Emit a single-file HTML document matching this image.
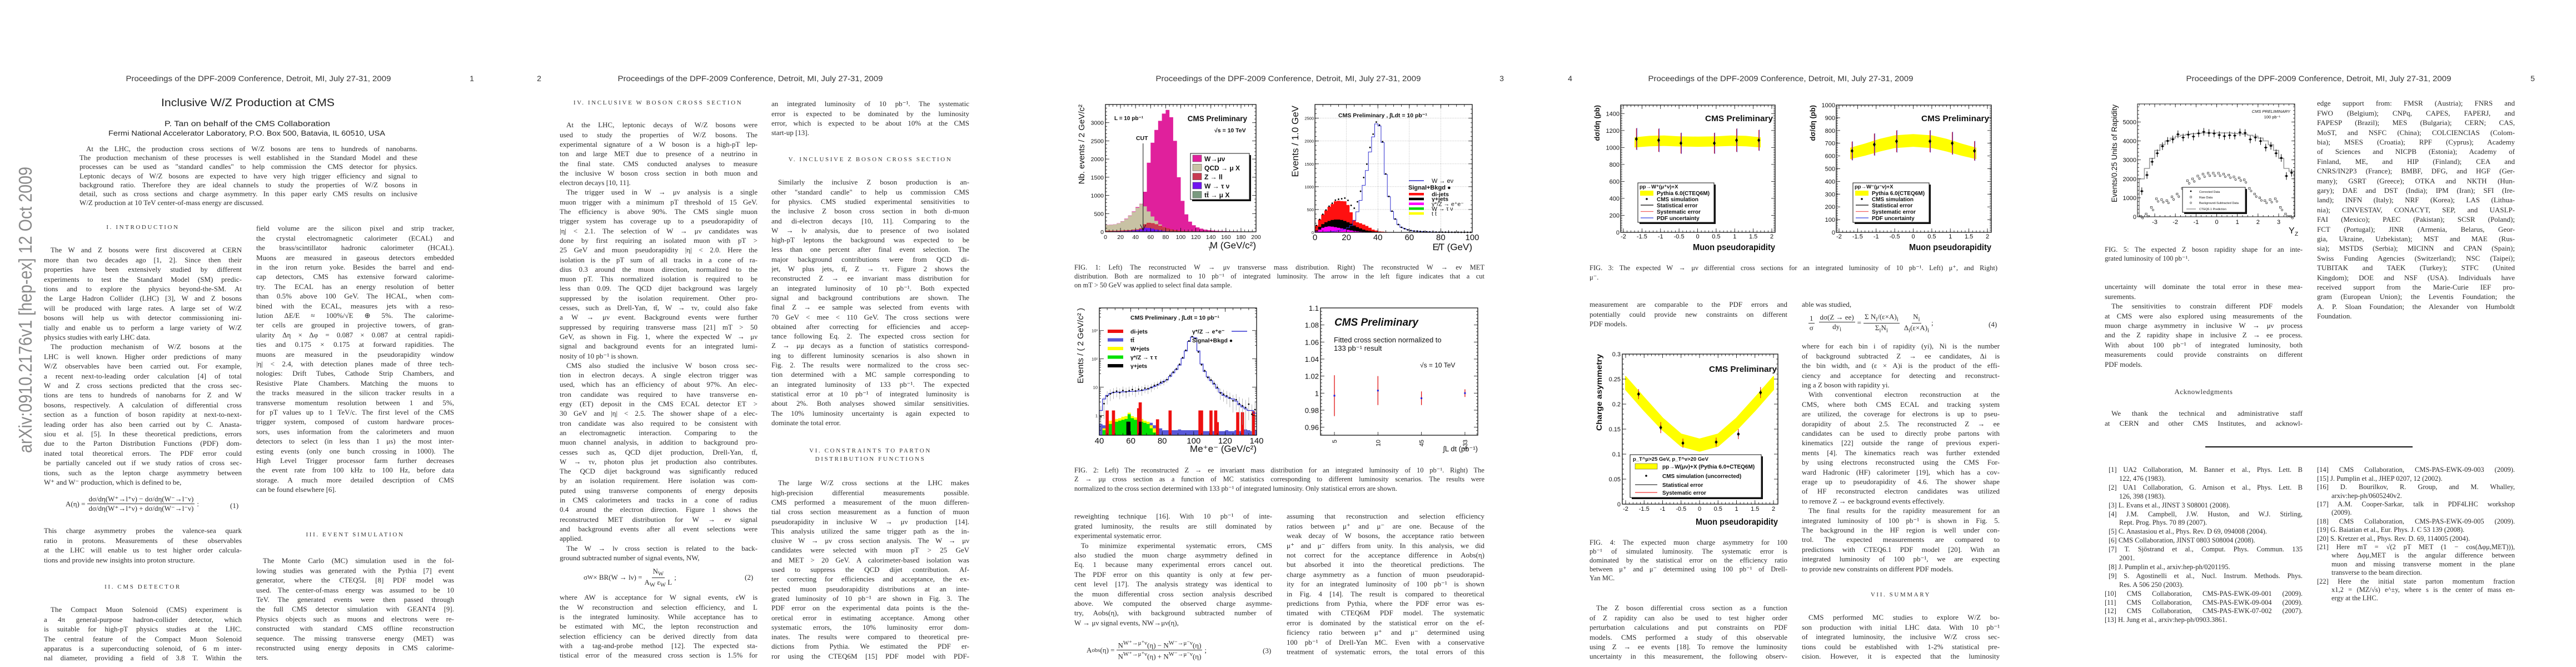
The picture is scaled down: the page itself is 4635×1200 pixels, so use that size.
<!DOCTYPE html>
<html><head><meta charset="utf-8">
<style>
html,body{margin:0;padding:0;background:#fff;}
#root{position:relative;width:4635px;height:1200px;overflow:hidden;background:#fff;font-family:"Liberation Serif",serif;color:#2a2a2a;}
#root div.ln{position:absolute;overflow:hidden;white-space:normal;text-align:justify;word-spacing:0;}
.hd{position:absolute;text-align:center;font-size:11px;letter-spacing:2.6px;color:#333;}
.eq{position:absolute;font-size:13px;display:flex;align-items:center;white-space:nowrap;color:#2a2a2a;}
.fr{display:inline-flex;flex-direction:column;align-items:center;margin:0 4px;}
.fr span:first-child{border-bottom:1px solid #333;padding:0 2px;}
svg text{font-family:"Liberation Sans",sans-serif;}
</style></head>
<body>
<div id="root">
<svg id="plots" width="4635" height="1200" style="position:absolute;left:0;top:0"></svg>

<div class="eq" style="left:118px;top:890px;">A(η) =<span class="fr"><span>dσ/dη(W⁺→l⁺ν) − dσ/dη(W⁻→l⁻ν)</span><span>dσ/dη(W⁺→l⁺ν) + dσ/dη(W⁻→l⁻ν)</span></span>:</div>
<div class="eq" style="left:414px;top:902px;">(1)</div>
<div class="eq" style="left:1050px;top:1020px;">σ<sub>W</sub> × BR(W → lν) =<span class="fr"><span>N<sub>W</sub></span><span>A<sub>W</sub> ε<sub>W</sub> L</span></span>;</div>
<div class="eq" style="left:1340px;top:1031px;">(2)</div>
<div class="eq" style="left:1955px;top:1150px;">A<sup>obs</sup>(η) =<span class="fr"><span>N<sup>W⁺→μ⁺ν</sup>(η) − N<sup>W⁻→μ⁻ν</sup>(η)</span><span>N<sup>W⁺→μ⁺ν</sup>(η) + N<sup>W⁻→μ⁻ν</sup>(η)</span></span>;</div>
<div class="eq" style="left:2272px;top:1163px;">(3)</div>
<div class="eq" style="left:3250px;top:562px;"><span class="fr"><span>1</span><span>σ</span></span><span class="fr"><span>dσ(Z → ee)</span><span>dy<sub>i</sub></span></span>=<span class="fr"><span>Σ N<sub>i</sub>/(ε×A)<sub>i</sub></span><span>Σ<sub>i</sub>N<sub>i</sub></span></span><span class="fr"><span>N<sub>i</sub></span><span>Δ<sub>i</sub>(ε×A)<sub>i</sub></span></span>;</div>
<div class="eq" style="left:3578px;top:576px;">(4)</div>
<div style="position:absolute;left:3968px;top:803px;width:373px;height:2px;background:#111;"></div>
</div>

<script>
const NS='http://www.w3.org/2000/svg';
const root=document.getElementById('root');
const svg=document.getElementById('plots');

/* ================= CHART DATA ================= */
// Fig1 left: W->mu nu transverse mass, bins of 5 GeV from 0 to 200
const f1lEdge0=0, f1lBinW=5;
const f1lTotal=[190,195,205,235,290,360,450,560,680,770,1100,1900,2450,2800,3050,3250,3350,3150,2500,1500,850,480,280,180,120,85,60,45,35,28,22,18,15,12,10,9,8,7,6,5];
const f1lQcd=[185,190,200,230,285,350,440,545,660,760,700,560,420,300,200,130,90,60,40,30,20,15,10,8,6,5,4,3,3,2,2,2,1,1,1,1,1,1,1,1];
const f1lZll=[20,20,22,25,30,35,40,50,60,90,200,240,230,200,160,120,90,60,40,25,15,10,6,4,2,1,0,0,0,0,0,0,0,0,0,0,0,0,0,0];
const f1lWtau=[8,8,10,12,15,20,25,35,50,70,110,105,85,60,40,25,14,8,4,2,1,0,0,0,0,0,0,0,0,0,0,0,0,0,0,0,0,0,0,0];
const f1lYTicks=[0,500,1000,1500,2000,2500,3000];
const f1lXTicks=[0,20,40,60,80,100,120,140,160,180,200];
const f1lCut=50;
// Fig1 right: W->e nu MET, 2 GeV bins 0..100
const f1rBinW=2;
const f1rWenu=[0,2,5,8,12,18,25,35,50,70,100,150,260,450,700,1030,1355,1760,2090,2375,2330,1970,1270,780,460,290,170,110,80,55,40,28,25,20,15,12,10,8,6,5,4,4,3,3,2,2,1,1,1,1];
const f1rDijet=[150,280,390,480,560,620,680,690,685,680,600,440,270,220,200,170,140,100,60,40,20,15,10,6,4,2,1,0,0,0,0,0,0,0,0,0,0,0,0,0,0,0,0,0,0,0,0,0,0,0];
const f1rGjet=[40,120,180,220,250,270,280,280,270,250,220,190,150,115,85,60,40,28,20,12,8,5,3,0,0,0,0,0,0,0,0,0,0,0,0,0,0,0,0,0,0,0,0,0,0,0,0,0,0,0];
const f1rGz=[20,60,100,120,130,125,115,100,85,70,55,42,30,20,14,9,6,4,2,1,0,0,0,0,0,0,0,0,0,0,0,0,0,0,0,0,0,0,0,0,0,0,0,0,0,0,0,0,0,0];
const f1rYTicks=[0,500,1000,1500,2000,2500];
const f1rXTicks=[0,20,40,60,80,100];
// Fig2 left: Z->ee invariant mass, 2 GeV bins 40..140 (log scale)
const f2lBinW=2, f2lEdge0=40;
const f2lZee=[1.5,3.8,5.1,6,6.5,6.6,6.7,6.8,6.9,7,7.1,7.2,7.4,7.6,8,8.6,9.5,10.5,11.8,13.5,16,18,24,32,42,60,104,190,410,590,550,190,66,36,23,17,12.7,9,6.5,5.1,4.5,4,3.8,3.2,2.4,2,1.7,1.5,1.5,1.2];
const f2lData=[0.9,2.6,4.8,5.8,6.5,7.2,6.4,7.6,6.8,7.5,8.2,7.3,8.4,7.9,9.2,8.8,9.9,11.5,12.3,14.8,15.5,18.4,26,34,44,64,110,200,430,610,520,175,62,38,22,18,13.5,9.8,6.2,5.6,4.9,4.2,3.3,3.6,2.6,2.2,1.9,2.5,1.1,1.6];
const f2lTtbar=[0.5,0.45,0.6,0.55,0.5,0.6,0.7,0.65,0.6,0.55,0.5,0.6,0.65,0.5,0.45,0.5,0.55,0.45,0.4,0.35,0.3,0.3,0.3,0.3,0.3,0.32,0.3,0.3,0.3,0.3,0.3,0.3,0.28,0.28,0.28,0.3,0.28,0.28,0.28,0.28,0.3,0.28,0.28,0.3,0.28,0.3,0.32,0.3,0.28,0.3];
const f2lGreen=[0,0.3,0.4,0.5,0.55,0.6,0.65,0.7,0.75,1.1,0.8,0.7,0.7,0.6,0.55,0.5,0.35,0.25,0,0,0,0,0,0,0,0,0,0,0,0,0,0,0,0,0,0,0,0,0,0,0,0,0,0,0,0,0,0,0,0];
const f2lYellow=[0,0.35,0.5,0.65,0.7,0.75,0.8,0.9,0.95,1.25,0.95,0.85,0.85,0.75,0.65,0.6,0.45,0.35,0.3,0,0,0,0,0,0,0,0,0,0,0,0,0,0,0,0,0,0,0,0,0,0,0,0,0,0,0,0,0,0,0];
const f2lDijetMass=[45,49,65,66,77,85,104,105,111,114,115,128,131,138];
const f2lDijetVal=[1.5,1.5,1.8,2.9,0.73,1.5,1.5,1.5,1.5,1.5,0.58,1.3,1.3,1.4];
const f2lYTicks=[1,10,100,1000];
const f2lYTickLabels=['1','10','10²','10³'];
const f2lXTicks=[40,60,80,100,120,140];
// Fig2 right: cross section vs integrated luminosity
const f2rCats=['5','10','45','133'];
const f2rVals=[0.997,1.003,0.994,1.0];
const f2rErrs=[0.024,0.017,0.008,0.0045];
const f2rYTicks=[0.96,0.98,1,1.02,1.04,1.06,1.08,1.1];
const f2rYTickLabels=['0.96','0.98','1','1.02','1.04','1.06','1.08','1.1'];
// Fig3: W differential cross sections
const f3Eta=[-1.65,-1.05,-0.45,0.45,1.05,1.65];
const f3BandEta=[-1.7,-1.3,-0.9,-0.5,0,0.5,0.9,1.3,1.7];
const f3lBand=[1060,1075,1080,1072,1068,1072,1080,1075,1060];
const f3lBandHW=[60,62,62,60,60,60,62,62,60];
const f3lVals=[1100,1085,1050,1050,1085,1085];
const f3lErr=[130,140,125,125,140,125];
const f3rBand=[620,650,685,712,722,712,685,650,620];
const f3rBandHW=[45,48,50,50,50,50,50,48,45];
const f3rVals=[640,690,715,715,700,640];
const f3rErr=[75,88,88,88,90,78];
const f3lYTicks=[0,200,400,600,800,1000,1200,1400];
const f3rYTicks=[0,100,200,300,400,500,600,700,800,900,1000];
const etaTicks=[-2,-1.5,-1,-0.5,0,0.5,1,1.5,2];
const etaTickLabels=['-2','-1.5','-1','-0.5','0','0.5','1','1.5','2'];
// Fig4: charge asymmetry
const f4BandEta=[-2,-1.5,-1,-0.5,0,0.5,1,1.5,2];
const f4Band=[0.242,0.2,0.16,0.128,0.118,0.128,0.16,0.2,0.242];
const f4BandHW=[0.013,0.013,0.012,0.012,0.012,0.012,0.012,0.013,0.013];
const f4Vals=[0.22,0.153,0.122,0.124,0.14,0.223];
const f4Err=[0.01,0.011,0.009,0.009,0.01,0.011];
const f4YTicks=[0,0.05,0.1,0.15,0.2,0.25,0.3];
const f4YTickLabels=['0','0.05','0.1','0.15','0.2','0.25','0.3'];
// Fig5: Z rapidity, 0.25 bins from -3.75 to 3.75
const f5Edge0=-3.75, f5BinW=0.25;
const f5Corrected=[1350,2200,2900,3350,3720,4000,4080,4350,4180,4330,4230,4400,4480,4420,4390,4310,4250,4300,4280,4450,4420,4080,4180,3990,3650,3740,3350,3100,2150,2320];
const f5Pred=[2000,2550,3080,3500,3800,4000,4150,4250,4300,4350,4380,4400,4420,4420,4420,4420,4420,4420,4400,4380,4350,4300,4250,4150,4000,3800,3500,3080,2550,2400];
const f5Raw=[30,150,500,950,900,850,1050,1200,1500,1900,2000,2150,2250,2300,2300,2300,2250,2200,2100,2050,1950,1500,1200,1000,850,900,950,500,150,30];
const f5BkgSub=[20,120,450,900,860,820,1000,1150,1450,1850,1950,2100,2200,2250,2250,2250,2200,2150,2050,2000,1900,1450,1150,950,820,860,900,450,120,20];
const f5YTicks=[0,1000,2000,3000,4000,5000];
const f5XTicks=[-3,-2,-1,0,1,2,3];

/* ================= SVG HELPERS ================= */
function mk(tag,name,attrs,parent){
  const e=document.createElementNS(NS,tag);
  
  
  for(const k in attrs) e.setAttribute(k,attrs[k]);
  (parent||svg).appendChild(e);
  return e;
}
function txt(name,x,y,s,size,o){
  o=o||{};
  const a={x:x,y:y,'font-size':size,fill:o.fill||'#111','text-anchor':o.anchor||'start'};
  if(o.weight) a['font-weight']=o.weight;
  if(o.style) a['font-style']=o.style;
  if(o.family) a['font-family']=o.family;
  if(o.rot!==undefined) a.transform='rotate('+o.rot+' '+x+' '+y+')';
  if(o.len){a.textLength=o.len;a.lengthAdjust='spacingAndGlyphs';}
  const t=mk('text',name,a);
  t.textContent=s;
  return t;
}
const lin=(d0,d1,r0,r1)=>v=>r0+(v-d0)/(d1-d0)*(r1-r0);
const lg=(d0,d1,r0,r1)=>v=>r0+(Math.log10(Math.max(v,d0))-Math.log10(d0))/(Math.log10(d1)-Math.log10(d0))*(r1-r0);
function stepPts(e0,w,vals,xs,ys,base){
  let p=[[xs(e0),ys(base)]];
  vals.forEach((v,i)=>{p.push([xs(e0+i*w),ys(v)]);p.push([xs(e0+(i+1)*w),ys(v)]);});
  p.push([xs(e0+vals.length*w),ys(base)]);
  return p.map(q=>q[0].toFixed(1)+','+q[1].toFixed(1)).join(' ');
}
function frame(name,x0,y0,x1,y1,w){
  mk('rect',name,{x:x0,y:y0,width:x1-x0,height:y1-y0,fill:'none',stroke:'#111','stroke-width':w||1.3});
}
function ticksX(name,vals,xs,y0,y1,len){
  vals.forEach(v=>{const x=xs(v);
    mk('line',name,{x1:x,y1:y1,x2:x,y2:y1-len,stroke:'#111','stroke-width':0.8});
    mk('line',name,{x1:x,y1:y0,x2:x,y2:y0+len,stroke:'#111','stroke-width':0.8});});
}
function ticksY(name,vals,ys,x0,x1,len){
  vals.forEach(v=>{const y=ys(v);
    mk('line',name,{x1:x0,y1:y,x2:x0+len,y2:y,stroke:'#111','stroke-width':0.8});
    mk('line',name,{x1:x1,y1:y,x2:x1-len,y2:y,stroke:'#111','stroke-width':0.8});});
}
function minors(a,b,st){const r=[];for(let v=a;v<=b+1e-9;v+=st)r.push(+v.toFixed(6));return r;}
function legendBox(name,x0,y0,x1,y1){
  mk('rect',name+'-shadow',{x:x0+3,y:y0+3,width:x1-x0,height:y1-y0,fill:'#111'});
  mk('rect',name,{x:x0,y:y0,width:x1-x0,height:y1-y0,fill:'#fff',stroke:'#111','stroke-width':1});
}
function errBar(name,x,y1,y2,col,w){mk('line',name,{x1:x,y1:y1,x2:x,y2:y2,stroke:col,'stroke-width':w||1.2});}

/* ================= FIG 1 LEFT ================= */
(function(){
  const X0=1989,X1=2260,Y0=188,Y1=417;
  const xs=lin(0,200,X0,X1), ys=lin(0,3500,Y1,Y0);
  mk('polygon','wmunu-histogram',{points:stepPts(f1lEdge0,f1lBinW,f1lTotal,xs,ys,0),fill:'#e0209c'});
  mk('polygon','qcd-histogram',{points:stepPts(f1lEdge0,f1lBinW,f1lQcd,xs,ys,0),fill:'#c8c2a4'});
  mk('polygon','zll-histogram',{points:stepPts(f1lEdge0,f1lBinW,f1lZll,xs,ys,0),fill:'#c83a52',stroke:'#e02030','stroke-width':0.8});
  mk('polygon','wtaunu-histogram',{points:stepPts(f1lEdge0,f1lBinW,f1lWtau,xs,ys,0),fill:'#7014f0'});
  frame('fig1-left-frame',X0,Y0,X1,Y1);
  ticksX('x-tick',f1lXTicks,xs,Y0,Y1,7);ticksX('x-minor-tick',minors(0,200,5),xs,Y0,Y1,4);
  ticksY('y-tick',f1lYTicks,ys,X0,X1,7);ticksY('y-minor-tick',minors(0,3500,100),ys,X0,X1,3);
  f1lYTicks.forEach(v=>txt('y-tick-label',X0-3,ys(v)+4,String(v),10.5,{anchor:'end'}));
  f1lXTicks.forEach(v=>txt('x-tick-label',xs(v),430,String(v),10.5,{anchor:'middle'}));
  txt('x-axis-title',X1,447,'M  (GeV/c²)',17,{anchor:'end'});
  txt('x-axis-title-sub',X1-86,451,'T',9);
  txt('y-axis-title',1951,Y0,'Nb. events / 2 GeV/c²',15,{anchor:'end',rot:-90});
  mk('line','cut-arrow',{x1:xs(f1lCut),y1:ys(2430),x2:xs(f1lCut),y2:ys(40),stroke:'#111','stroke-width':1});
  mk('polyline','cut-arrow-head',{points:(xs(f1lCut)-5)+','+(ys(200))+' '+xs(f1lCut)+','+ys(40)+' '+(xs(f1lCut)+5)+','+ys(200),fill:'none',stroke:'#111','stroke-width':1});
  txt('cut-label',xs(f1lCut)-2,ys(2520),'CUT',10.5,{anchor:'middle',weight:'bold'});
  txt('lumi-label',2005,216,'L = 10 pb⁻¹',10,{weight:'bold'});
  txt('cms-preliminary',2244,218,'CMS Preliminary',13.5,{anchor:'end',weight:'bold'});
  txt('sqrt-s-label',2185,238,'√s = 10 TeV',10.5,{weight:'bold'});
  legendBox('fig1-left-legend',2142,276,2248,359);
  const L=[['#e0209c','W→μν'],['#c8c2a4','QCD → μ X'],['#c83a52','Z → ll'],['#7014f0','W → τ ν'],['#7a9a80','tt̄ → μ X']];
  L.forEach((e,i)=>{const y=279+i*16.3;
    mk('rect','legend-swatch',{x:2146,y:y,width:16,height:12,fill:e[0],stroke:'#555','stroke-width':0.6});
    txt('legend-entry',2167,y+11,e[1],12,{weight:'bold'});});
})();

/* ================= FIG 1 RIGHT ================= */
(function(){
  const X0=2366,X1=2649,Y0=188,Y1=418;
  const xs=lin(0,100,X0,X1), ys=lin(0,2800,Y1,Y0);
  [20,40,60,80].forEach(v=>mk('line','grid-line-x',{x1:xs(v),y1:Y0,x2:xs(v),y2:Y1,stroke:'#aaa','stroke-width':0.6,'stroke-dasharray':'1.5,1.5'}));
  f1rYTicks.slice(1).forEach(v=>mk('line','grid-line-y',{x1:X0,y1:ys(v),x2:X1,y2:ys(v),stroke:'#aaa','stroke-width':0.6,'stroke-dasharray':'1.5,1.5'}));
  mk('polygon','dijets-histogram',{points:stepPts(0,f1rBinW,f1rDijet,xs,ys,0),fill:'#ff1010'});
  mk('polygon','gamma-jets-histogram',{points:stepPts(0,f1rBinW,f1rGjet,xs,ys,0),fill:'#000'});
  mk('polygon','gamma-z-histogram',{points:stepPts(0,f1rBinW,f1rGz,xs,ys,0),fill:'#ff00ff'});
  mk('polyline','wenu-line',{points:stepPts(0,f1rBinW,f1rWenu,xs,ys,0),fill:'none',stroke:'#3030d0','stroke-width':1});
  f1rWenu.forEach((v,i)=>{mk('circle','signal-bkgd-point',{cx:xs(i*f1rBinW+1),cy:ys(v+f1rDijet[i]),r:1.4,fill:'#000'});});
  frame('fig1-right-frame',X0,Y0,X1,Y1);
  ticksX('x-tick',f1rXTicks,xs,Y0,Y1,7);ticksX('x-minor-tick',minors(0,100,5),xs,Y0,Y1,4);
  ticksY('y-tick',f1rYTicks,ys,X0,X1,7);ticksY('y-minor-tick',minors(0,2800,100),ys,X0,X1,3);
  f1rYTicks.forEach(v=>txt('y-tick-label',X0-2,ys(v)+3,String(v),7.5,{anchor:'end'}));
  f1rXTicks.forEach(v=>txt('x-tick-label',xs(v),432,String(v),15,{anchor:'middle'}));
  txt('x-axis-title',X1,450,'E̸T (GeV)',17,{anchor:'end'});
  txt('y-axis-title',2336,190,'Events / 1.0 GeV',17,{anchor:'end',rot:-90});
  txt('cms-preliminary-lumi',2408,211,'CMS Preliminary , ∫Ldt = 10 pb⁻¹',10.5,{weight:'bold'});
  mk('line','legend-line',{x1:2535,y1:325,x2:2562,y2:325,stroke:'#3030d0','stroke-width':1.5});
  txt('legend-entry',2576,329,'W → eν',11);
  txt('legend-entry',2534,341,'Signal+Bkgd ●',11,{weight:'bold'});
  const L=[['#ff1010','di-jets'],['#000','γ+jets'],['#ff00ff','γ*/Z → e⁺e⁻'],['#00dd00','W → τ ν'],['#ffff00','t t̄']];
  L.forEach((e,i)=>{const y=350+i*8.7;
    mk('rect','legend-swatch',{x:2535,y:y-3,width:27,height:4.5,fill:e[0]});
    txt('legend-entry',2576,y+3,e[1],10.5,{weight:i<2?'bold':'normal'});});
})();

/* ================= FIG 2 LEFT ================= */
(function(){
  const X0=1978,X1=2261,Y0=554,Y1=783;
  const xs=lin(40,140,X0,X1), ys=lg(0.2,6300,Y1,Y0);
  mk('polygon','ttbar-histogram',{points:stepPts(f2lEdge0,f2lBinW,f2lTtbar,xs,ys,0.2),fill:'#5858d8'});
  mk('polygon','wjets-histogram',{points:stepPts(f2lEdge0,f2lBinW,f2lYellow,xs,ys,0.2),fill:'#ffff00'});
  mk('polygon','ztautau-histogram',{points:stepPts(f2lEdge0,f2lBinW,f2lGreen,xs,ys,0.2),fill:'#00e000'});
  f2lDijetMass.forEach((m,i)=>{mk('rect','dijet-bar',{x:xs(m-1),y:ys(f2lDijetVal[i]),width:xs(m+1)-xs(m-1),height:Y1-ys(f2lDijetVal[i]),fill:'#ee1010'});});
  [58,59,66].forEach(m=>mk('rect','gamma-jets-bar',{x:xs(m-0.8),y:ys(0.6),width:xs(m+0.8)-xs(m-0.8),height:Y1-ys(0.6),fill:'#000'}));
  f2lData.forEach((v,i)=>{const x=xs(f2lEdge0+i*f2lBinW+1);const e=Math.sqrt(v)*0.9+0.4;
    errBar('data-error-bar',x,ys(v+e),ys(Math.max(v-e,0.21)),'#999',0.7);});
  mk('polyline','zee-line',{points:stepPts(f2lEdge0,f2lBinW,f2lZee,xs,ys,0.2),fill:'none',stroke:'#3030d0','stroke-width':1.2});
  f2lData.forEach((v,i)=>{mk('circle','signal-bkgd-point',{cx:xs(f2lEdge0+i*f2lBinW+1),cy:ys(v),r:1.4,fill:'#000'});});
  frame('fig2-left-frame',X0,Y0,X1,Y1);
  ticksX('x-tick',f2lXTicks,xs,Y0,Y1,7);ticksX('x-minor-tick',minors(40,140,5),xs,Y0,Y1,4);
  ticksY('y-tick',f2lYTicks,ys,X0,X1,8);
  const ym=[];[0.3,0.4,0.5,0.6,0.7,0.8,0.9].forEach(b=>[1,10,100,1000].forEach(m=>ym.push(b*m*10)));ym.push(0.3,0.4,0.5,0.6,0.7,0.8,0.9);
  ticksY('y-minor-tick',ym.filter(v=>v<6300),ys,X0,X1,3);
  f2lYTicks.forEach((v,i)=>txt('y-tick-label',X0-3,ys(v)+3,f2lYTickLabels[i],7.5,{anchor:'end'}));
  f2lXTicks.forEach(v=>txt('x-tick-label',xs(v),798,String(v),15,{anchor:'middle'}));
  txt('x-axis-title',X1,813,'Me⁺e⁻ (GeV/c²)',17,{anchor:'end'});
  txt('y-axis-title',1949,554,'Events / ( 2 GeV/c² )',15,{anchor:'end',rot:-90});
  txt('cms-preliminary-lumi',2034,575,'CMS Preliminary , ∫Ldt = 10 pb⁻¹',10.5,{weight:'bold'});
  const L=[['#ee1010','di-jets'],['#5858d8','tt̄'],['#ffff00','W+jets'],['#00e000','γ*/Z → τ τ'],['#000','γ+jets']];
  L.forEach((e,i)=>{const y=596+i*15.5;
    mk('rect','legend-swatch',{x:1993,y:y-3,width:28,height:6,fill:e[0]});
    txt('legend-entry',2034,y+4,e[1],10.5,{weight:'bold'});});
  txt('legend-entry',2145,600,'γ*/Z → e⁺e⁻',10.5,{weight:'bold'});
  mk('line','legend-line',{x1:2216,y1:596,x2:2244,y2:596,stroke:'#3030d0','stroke-width':1.5});
  txt('legend-entry',2145,616,'Signal+Bkgd ●',10.5,{weight:'bold'});
})();

/* ================= FIG 2 RIGHT ================= */
(function(){
  const X0=2376,X1=2659,Y0=554,Y1=783;
  const ys=lin(0.9506,1.1,Y1,Y0);
  const xc=i=>X0+25+i*78.3;
  f2rVals.forEach((v,i)=>{errBar('xsec-error-bar',xc(i),ys(v+f2rErrs[i]),ys(v-f2rErrs[i]),'#e01010',1.3);
    mk('rect','xsec-point',{x:xc(i)-1.5,y:ys(v)-1.5,width:3,height:3,fill:'#2020e0'});});
  frame('fig2-right-frame',X0,Y0,X1,Y1);
  ticksY('y-tick',f2rYTicks,ys,X0,X1,7);ticksY('y-minor-tick',minors(0.952,1.1,0.004),ys,X0,X1,3);
  f2rCats.forEach((c,i)=>{mk('line','x-tick',{x1:xc(i),y1:Y1,x2:xc(i),y2:Y1-6,stroke:'#111','stroke-width':0.8});
    txt('x-tick-label',xc(i)+4,791,c,11,{anchor:'end',rot:-90});});
  f2rYTicks.forEach((v,i)=>txt('y-tick-label',X0-3,ys(v)+5,f2rYTickLabels[i],13,{anchor:'end'}));
  txt('x-axis-title',X1,812,'∫L dt (pb⁻¹)',13,{anchor:'end'});
  txt('cms-preliminary',2401,586,'CMS Preliminary',19,{weight:'bold',style:'italic'});
  txt('fit-note-1',2400,616,'Fitted cross section normalized to',13);
  txt('fit-note-2',2400,631,'133 pb⁻¹ result',13);
  txt('sqrt-s-label',2555,661,'√s = 10 TeV',12);
})();

/* ================= FIG 3 ================= */
function fig3(tag,X0,X1,xa,xb,ymax,yt,band,hw,vals,err,lx,label){
  const Y0=189,Y1=418;
  const xs=lin(-2,2,xa,xb), ys=lin(0,ymax,Y1,Y0);
  const up=f3BandEta.map((e,i)=>xs(e).toFixed(1)+','+ys(band[i]+hw[i]).toFixed(1));
  const dn=f3BandEta.map((e,i)=>xs(e).toFixed(1)+','+ys(band[i]-hw[i]).toFixed(1)).reverse();
  mk('polygon',tag+'-pythia-band',{points:up.concat(dn).join(' '),fill:'#ffff00'});
  f3Eta.forEach((e,i)=>{const x=xs(e);
    errBar('pdf-error-bar',x+1,ys(vals[i]+err[i]),ys(vals[i]-err[i]),'#4040e0',1);
    errBar('systematic-error-bar',x,ys(vals[i]+err[i]*0.97),ys(vals[i]-err[i]*0.97),'#e02020',1.2);
    errBar('statistical-error-bar',x,ys(vals[i]+err[i]*0.2),ys(vals[i]-err[i]*0.2),'#000',1);
    mk('circle','cms-simulation-point',{cx:x,cy:ys(vals[i]),r:2.3,fill:'#000'});});
  frame(tag+'-frame',X0,Y0,X1,Y1);
  ticksX('x-tick',etaTicks,xs,Y0,Y1,7);ticksX('x-minor-tick',minors(-2,2,0.1),xs,Y0,Y1,3.5);
  ticksY('y-tick',yt,ys,X0,X1,7);ticksY('y-minor-tick',minors(0,ymax,ymax/75),ys,X0,X1,3);
  yt.forEach(v=>txt('y-tick-label',X0-2,ys(v)+4,String(v),11,{anchor:'end',family:'Liberation Serif'}));
  etaTicks.forEach((v,i)=>txt('x-tick-label',xs(v),429,etaTickLabels[i],11,{anchor:'middle',family:'Liberation Serif'}));
  txt('x-axis-title',X1,450,'Muon pseudorapidity',15.5,{anchor:'end',weight:'bold',len:148});
  txt('y-axis-title',X0-38,Y0,'dσ/dη (pb)',13,{anchor:'end',rot:-90,weight:'bold'});
  txt('cms-preliminary',X1-4,218,'CMS Preliminary',15,{anchor:'end',weight:'bold',len:122});
  legendBox(tag+'-legend',lx,329,lx+137,400);
  txt('legend-title',lx+3,339,label,9.5,{weight:'bold'});
  mk('rect','legend-swatch',{x:lx+4,y:343,width:24,height:9,fill:'#ffff00'});
  txt('legend-entry',lx+34,351,'Pythia 6.0(CTEQ6M)',10,{weight:'bold'});
  mk('circle','legend-dot',{cx:lx+16,cy:358,r:1.8,fill:'#000'});
  txt('legend-entry',lx+34,362,'CMS simulation',10,{weight:'bold'});
  [['#000','Statistical error'],['#f06060','Systematic error'],['#3040e0','PDF uncertainty']].forEach((e,i)=>{
    const y=369+i*11.5;
    mk('line','legend-line',{x1:lx+5,y1:y,x2:lx+28,y2:y,stroke:e[0],'stroke-width':1.2});
    txt('legend-entry',lx+34,y+4,e[1],10,{weight:'bold'});});
}
fig3('fig3-left',2916,3194,2921,3188,1500,f3lYTicks,f3lBand,f3lBandHW,f3lVals,f3lErr,2947,'pp→W⁺(μ⁺ν)+X');
fig3('fig3-right',3304,3583,3309,3576,1000,f3rYTicks,f3rBand,f3rBandHW,f3rVals,f3rErr,3334,'pp→W⁻(μ⁻ν)+X');

/* ================= FIG 4 ================= */
(function(){
  const X0=2919,X1=3199,Y0=637,Y1=907;
  const xs=lin(-2,2,2925,3191), ys=lin(0,0.3,Y1,Y0);
  const up=f4BandEta.map((e,i)=>xs(e).toFixed(1)+','+ys(f4Band[i]+f4BandHW[i]).toFixed(1));
  const dn=f4BandEta.map((e,i)=>xs(e).toFixed(1)+','+ys(f4Band[i]-f4BandHW[i]).toFixed(1)).reverse();
  mk('polygon','pythia-band',{points:up.concat(dn).join(' '),fill:'#ffff00',stroke:'#ffff00','stroke-width':2,'stroke-linejoin':'round'});
  f3Eta.forEach((e,i)=>{const x=xs(e);
    errBar('systematic-error-bar',x,ys(f4Vals[i]+f4Err[i]),ys(f4Vals[i]-f4Err[i]),'#e02020',1.2);
    errBar('statistical-error-bar',x,ys(f4Vals[i]+f4Err[i]*0.45),ys(f4Vals[i]-f4Err[i]*0.45),'#000',1);
    mk('circle','cms-simulation-point',{cx:x,cy:ys(f4Vals[i]),r:2.3,fill:'#000'});});
  frame('fig4-frame',X0,Y0,X1,Y1);
  ticksX('x-tick',etaTicks,xs,Y0,Y1,7);ticksX('x-minor-tick',minors(-2,2,0.1),xs,Y0,Y1,3.5);
  ticksY('y-tick',f4YTicks,ys,X0,X1,7);ticksY('y-minor-tick',minors(0,0.3,0.01),ys,X0,X1,3);
  f4YTicks.forEach((v,i)=>txt('y-tick-label',X0-3,ys(v)+4,f4YTickLabels[i],11,{anchor:'end',family:'Liberation Serif'}));
  etaTicks.forEach((v,i)=>txt('x-tick-label',xs(v),919,etaTickLabels[i],11,{anchor:'middle',family:'Liberation Serif'}));
  txt('x-axis-title',X1,944,'Muon pseudorapidity',15.5,{anchor:'end',weight:'bold',len:148});
  txt('y-axis-title',2882,637,'Charge asymmetry',14,{anchor:'end',rot:-90,weight:'bold',len:138});
  txt('cms-preliminary',X1-2,669,'CMS Preliminary',15,{anchor:'end',weight:'bold',len:122});
  legendBox('fig4-legend',2933,818,3169,895);
  txt('legend-title',2938,829,'p_T^μ>25 GeV, p_T^ν>20 GeV',9.5,{weight:'bold'});
  mk('rect','legend-swatch',{x:2942,y:834,width:40,height:10,fill:'#ffff00',stroke:'#333','stroke-width':0.5});
  txt('legend-entry',2991,843,'pp→W(μν)+X (Pythia 6.0+CTEQ6M)',10,{weight:'bold'});
  mk('circle','legend-dot',{cx:2962,cy:856,r:1.8,fill:'#000'});
  txt('legend-entry',2991,860,'CMS simulation (uncorrected)',10,{weight:'bold'});
  mk('line','legend-line',{x1:2942,y1:872,x2:2982,y2:872,stroke:'#333','stroke-width':1.2});
  txt('legend-entry',2991,876,'Statistical error',10,{weight:'bold'});
  mk('line','legend-line',{x1:2942,y1:886,x2:2982,y2:886,stroke:'#f03030','stroke-width':1.2});
  txt('legend-entry',2991,890,'Systematic error',10,{weight:'bold'});
})();

/* ================= FIG 5 ================= */
(function(){
  const X0=3846,X1=4129,Y0=187,Y1=390;
  const xs=lin(-3,3,3877,4100), ys=lin(0,5000,Y1,219.4);
  mk('polyline','cteq-prediction',{points:stepPts(f5Edge0,f5BinW,f5Pred,xs,ys,0),fill:'none',stroke:'#999','stroke-width':1.6});
  f5Corrected.forEach((v,i)=>{const x=xs(f5Edge0+(i+0.5)*f5BinW);
    errBar('corrected-error',x,ys(v+200),ys(v-200),'#000',1);
    mk('line','corrected-xerr',{x1:x-3,y1:ys(v),x2:x+3,y2:ys(v),stroke:'#000','stroke-width':1});
    mk('circle','corrected-data-point',{cx:x,cy:ys(v),r:1.8,fill:'#000'});});
  f5Raw.forEach((v,i)=>{const x=xs(f5Edge0+(i+0.5)*f5BinW)-1.5;
    mk('rect','raw-data-point',{x:x-1.6,y:ys(v)-1.6,width:3.2,height:3.2,fill:'none',stroke:'#222','stroke-width':0.7});});
  f5BkgSub.forEach((v,i)=>{const x=xs(f5Edge0+(i+0.5)*f5BinW)+1.5;
    mk('circle','bkg-subtracted-point',{cx:x,cy:ys(v)+3,r:1.6,fill:'none',stroke:'#222','stroke-width':0.7});});
  frame('fig5-frame',X0,Y0,X1,Y1,1);
  ticksX('x-tick',f5XTicks,xs,Y0,Y1,6);ticksX('x-minor-tick',minors(-3.75,3.75,0.25),xs,Y0,Y1,3);
  ticksY('y-tick',f5YTicks,ys,X0,X1,6);ticksY('y-minor-tick',minors(0,5800,200),ys,X0,X1,3);
  f5YTicks.forEach(v=>txt('y-tick-label',X0-2,ys(v)+4,String(v),11,{anchor:'end'}));
  f5XTicks.forEach(v=>txt('x-tick-label',xs(v),403,String(v),11,{anchor:'middle'}));
  txt('x-axis-title',4118,420,'Y',16);
  txt('x-axis-title-sub',4129,424,'Z',10);
  txt('y-axis-title',3809,188,'Events/0.25 Units of Rapidity',13.5,{anchor:'end',rot:-90,len:176});
  txt('cms-preliminary',4121,203,'CMS PRELIMINARY',7.5,{anchor:'end',style:'italic',family:'Liberation Serif'});
  txt('lumi-label',4103,213,'100 pb⁻¹',7.5,{anchor:'end'});
  legendBox('fig5-legend',3927,337,4040,382);
  mk('circle','legend-dot',{cx:3942,cy:344,r:1.4,fill:'#000'});
  txt('legend-entry',3957,347,'Corrected Data',5.5);
  mk('rect','legend-square',{x:3940.5,y:353,width:3,height:3,fill:'none',stroke:'#222','stroke-width':0.6});
  txt('legend-entry',3957,357,'Raw Data',5.5);
  mk('circle','legend-circle',{cx:3942,cy:365,r:1.4,fill:'none',stroke:'#222','stroke-width':0.6});
  txt('legend-entry',3957,367,'Background-Subtracted Data',5.5);
  mk('line','legend-line',{x1:3934,y1:376,x2:3951,y2:376,stroke:'#999','stroke-width':1.5});
  txt('legend-entry',3957,378,'CTEQ6.1 Prediction',5.5);
})();

/* ================= PAGE HEADERS, TITLE, STAMP ================= */
const HDR='Proceedings of the DPF-2009 Conference, Detroit, MI, July 27-31, 2009';
[[465,849,'1'],[927+423,927+43,'2'],[1854+464,1854+848,'3'],[2781+423,2781+44,'4'],[3708+464,3708+849,'5']].forEach(p=>{
  txt('running-header',p[0],146,HDR,14,{anchor:'middle',family:'Liberation Serif',len:477,fill:'#333'});
  txt('page-number',p[1],146,p[2],14,{anchor:'middle',family:'Liberation Serif',fill:'#333'});
});
txt('paper-title',446,191,'Inclusive W/Z Production at CMS',19,{anchor:'middle',family:'Liberation Serif',len:312,fill:'#222'});
txt('author-line',445,227,'P. Tan on behalf of the CMS Collaboration',14,{anchor:'middle',family:'Liberation Serif',len:298,fill:'#222'});
txt('affiliation-line',444,244,'Fermi National Accelerator Laboratory, P.O. Box 500, Batavia, IL 60510, USA',12.5,{anchor:'middle',family:'Liberation Serif',len:498,fill:'#222'});
txt('arxiv-stamp',57,815,'arXiv:0910.2176v1  [hep-ex]  12 Oct 2009',33,{rot:-90,family:'Liberation Serif',fill:'#8a8a8a',len:515});

/* ================= TEXT ================= */
function col(name,x,y0,w,lh,fs,lines){
  lines.forEach((s,i)=>{
    let end=s.endsWith('|'); if(end) s=s.slice(0,-1);
    let ind=0; if(s[0]==='^'){ind=12;s=s.slice(1);} else if(s[0]==='>'){ind=26;s=s.slice(1);} else if(s[0]==='~'){ind=7;s=s.slice(1);}
    const d=document.createElement('div');
    
    
    d.className='ln';
    d.style.left=(x+ind)+'px';d.style.top=(y0+i*lh-lh/2)+'px';d.style.width=(w-ind)+'px';
    d.style.height=lh+'px';d.style.lineHeight=lh+'px';d.style.fontSize=fs+'px';
    d.style.textAlignLast=end?'left':'justify';
    d.textContent=s;
    root.appendChild(d);
  });
}
function head(name,x,y,w,s,fs,ls){
  const d=document.createElement('div');
  
  
  d.className='hd';
  d.style.left=x+'px';d.style.top=(y-8)+'px';d.style.width=w+'px';
  if(fs){d.style.fontSize=fs+'px';}
  if(ls!==undefined){d.style.letterSpacing=ls+'px';}
  d.textContent=s;
  root.appendChild(d);
}
const LH=17.4, FS=13, CW=356;
// Page 1
col('abstract-line',143,268,608,16.2,13,[
'^At the LHC, the production cross sections of W/Z bosons are tens to hundreds of nanobarns.',
'The production mechanism of these processes is well established in the Standard Model and these',
'processes can be used as "standard candles" to help commission the CMS detector for physics.',
'Leptonic decays of W/Z bosons are expected to have very high trigger efficiency and signal to',
'background ratio. Therefore they are ideal channels to study the properties of W/Z bosons in',
'detail, such as cross sections and charge asymmetry. In this paper early CMS results on inclusive',
'W/Z production at 10 TeV center-of-mass energy are discussed.|']);
head('section-heading',79,411,CW,'I.  INTRODUCTION');
col('body-text-line',79,450,CW,LH,FS,[
'^The W and Z bosons were first discovered at CERN','more than two decades ago [1, 2]. Since then their','properties have been extensively studied by different','experiments to test the Standard Model (SM) predic-','tions and to explore the physics beyond-the-SM. At','the Large Hadron Collider (LHC) [3], W and Z bosons','will be produced with large rates. A large set of W/Z','bosons will help us with detector commissioning ini-','tially and enable us to perform a large variety of W/Z','physics studies with early LHC data.|',
'^The production mechanism of W/Z bosons at the','LHC is well known. Higher order predictions of many','W/Z observables have been carried out. For example,','a recent next-to-leading order calculation [4] of total','W and Z cross sections predicted that the cross sec-','tions are tens to hundreds of nanobarns for Z and W','bosons, respectively. A calculation of differential cross','section as a function of boson rapidity at next-to-next-','leading order has also been carried out by C. Anasta-','siou et al. [5]. In these theoretical predictions, errors','due to the Parton Distribution Functions (PDF) dom-','inated total theoretical errors. The PDF error could','be partially canceled out if we study ratios of cross sec-','tions, such as the lepton charge asymmetry between','W⁺ and W⁻ production, which is defined to be,|']);
col('body-text-line',79,955,CW,LH,FS,[
'This charge asymmetry probes the valence-sea quark','ratio in protons. Measurements of these observables','at the LHC will enable us to test higher order calcula-','tions and provide new insights into proton structure.|']);
head('section-heading',79,1058,CW,'II.  CMS DETECTOR');
col('body-text-line',79,1097,CW,LH,FS,[
'^The Compact Muon Solenoid (CMS) experiment is','a 4π general-purpose hadron-collider detector, which','is suitable for high-pT physics studies at the LHC.','The central feature of the Compact Muon Solenoid','apparatus is a superconducting solenoid, of 6 m inter-','nal diameter, providing a field of 3.8 T. Within the']);
col('body-text-line',461,411,CW,LH,FS,[
'field volume are the silicon pixel and strip tracker,','the crystal electromagnetic calorimeter (ECAL) and','the brass/scintillator hadronic calorimeter (HCAL).','Muons are measured in gaseous detectors embedded','in the iron return yoke. Besides the barrel and end-','cap detectors, CMS has extensive forward calorime-','try. The ECAL has an energy resolution of better','than 0.5% above 100 GeV. The HCAL, when com-','bined with the ECAL, measures jets with a reso-','lution ΔE/E ≈ 100%/√E ⊕ 5%. The calorime-','ter cells are grouped in projective towers, of gran-','ularity Δη × Δφ = 0.087 × 0.087 at central rapidi-','ties and 0.175 × 0.175 at forward rapidities. The','muons are measured in the pseudorapidity window','|η| < 2.4, with detection planes made of three tech-','nologies: Drift Tubes, Cathode Strip Chambers, and','Resistive Plate Chambers. Matching the muons to','the tracks measured in the silicon tracker results in a','transverse momentum resolution between 1 and 5%,','for pT values up to 1 TeV/c. The first level of the CMS','trigger system, composed of custom hardware proces-','sors, uses information from the calorimeters and muon','detectors to select (in less than 1 μs) the most inter-','esting events (only one bunch crossing in 1000). The','High Level Trigger processor farm further decreases','the event rate from 100 kHz to 100 Hz, before data','storage. A much more detailed description of CMS','can be found elsewhere [6].|']);
head('section-heading',461,964,CW,'III.  EVENT SIMULATION');
col('body-text-line',461,1009,CW,LH,FS,[
'^The Monte Carlo (MC) simulation used in the fol-','lowing studies was generated with the Pythia [7] event','generator, where the CTEQ5L [8] PDF model was','used. The center-of-mass energy was assumed to be 10','TeV. The generated events were then passed through','the full CMS detector simulation with GEANT4 [9].','Physics objects such as muons and electrons were re-','constructed with standard CMS offline reconstruction','sequence. The missing transverse energy (MET) was','reconstructed using energy deposits in CMS calorime-','ters.|']);
// Page 2
const P2=927;
head('section-heading',P2+79,187,CW,'IV.  INCLUSIVE W BOSON CROSS SECTION');
col('body-text-line',P2+80,225,CW,17.3,FS,[
'^At the LHC, leptonic decays of W/Z bosons were','used to study the properties of W/Z bosons. The','experimental signature of a W boson is a high-pT lep-','ton and large MET due to presence of a neutrino in','the final state. CMS conducted analyses to measure','the inclusive W boson cross section in both muon and','electron decays [10, 11].|',
'^The trigger used in W → μν analysis is a single','muon trigger with a minimum pT threshold of 15 GeV.','The efficiency is above 90%. The CMS single muon','trigger system has coverage up to a pseudorapidity of','|η| < 2.1. The selection of W → μν candidates was','done by first requiring an isolated muon with pT >','25 GeV and muon pseudorapidity |η| < 2.0. Here the','isolation is the pT sum of all tracks in a cone of ra-','dius 0.3 around the muon direction, normalized to the','muon pT. This normalized isolation is required to be','less than 0.09. The QCD dijet background was largely','suppressed by the isolation requirement. Other pro-','cesses, such as Drell-Yan, tt̄, W → τν, could also fake','a W → μν event. Background events were further','suppressed by requiring transverse mass [21] mT > 50','GeV, as shown in Fig. 1, where the expected W → μν','signal and background events for an integrated lumi-','nosity of 10 pb⁻¹ is shown.|',
'^CMS also studied the inclusive W boson cross sec-','tion in electron decays. A single electron trigger was','used, which has an efficiency of about 97%. An elec-','tron candidate was required to have transverse en-','ergy (ET) deposit in the CMS ECAL detector ET >','30 GeV and |η| < 2.5. The shower shape of a elec-','tron candidate was also required to be consistent with','an electromagnetic interaction. Comparing to the','muon channel analysis, in addition to background pro-','cesses such as, QCD dijet production, Drell-Yan, tt̄,','W → τν, photon plus jet production also contributes.','The QCD dijet background was significantly reduced','by an isolation requirement. Here isolation was com-','puted using transverse components of energy deposits','in CMS calorimeters and tracks in a cone of radius','0.4 around the electron direction. Figure 1 shows the','reconstructed MET distribution for W → eν signal','and background events after all event selections were','applied.|',
'^The W → lν cross section is related to the back-','ground subtracted number of signal events, NW,|']);
col('body-text-line',P2+80,1075,CW,17.3,FS,[
'where AW is acceptance for W signal events, εW is','the W reconstruction and selection efficiency, and L','is the integrated luminosity. While acceptance has to','be estimated with MC, the lepton reconstruction and','selection efficiency can be derived directly from data','with a tag-and-probe method [12]. The expected sta-','tistical error of the measured cross section is 1.5% for']);
col('body-text-line',P2+461,187,CW,17.3,FS,[
'an integrated luminosity of 10 pb⁻¹. The systematic','error is expected to be dominated by the luminosity','error, which is expected to be about 10% at the CMS','start-up [13].|']);
head('section-heading',P2+461,289,CW,'V.  INCLUSIVE Z BOSON CROSS SECTION');
col('body-text-line',P2+461,328,CW,17.3,FS,[
'^Similarly the inclusive Z boson production is an-','other "standard candle" to help us commission CMS','for physics. CMS studied experimental sensitivities to','the inclusive Z boson cross section in both di-muon','and di-electron decays [10, 11]. Comparing to the','W → lν analysis, due to presence of two isolated','high-pT leptons the background was expected to be','less than one percent after final event selection. The','major background contributions were from QCD di-','jet, W plus jets, tt̄, Z → ττ. Figure 2 shows the','reconstructed Z → ee invariant mass distribution for','an integrated luminosity of 10 pb⁻¹. Both expected','signal and background contributions are shown. The','final Z → ee sample was selected from events with','70 GeV < mee < 110 GeV. The cross sections were','obtained after correcting for efficiencies and accep-','tance following Eq. 2. The expected cross section for','Z → μμ decays as a function of statistics correspond-','ing to different luminosity scenarios is also shown in','Fig. 2. The results were normalized to the cross sec-','tion determined with a MC sample corresponding to','an integrated luminosity of 133 pb⁻¹. The expected','statistical error at 10 pb⁻¹ of integrated luminosity is','about 2%. Both analyses showed similar sensitivities.','The 10% luminosity uncertainty is again expected to','dominate the total error.|']);
head('section-heading',P2+461,813,CW,'VI.  CONSTRAINTS TO PARTON');
head('section-heading',P2+461,828,CW,'DISTRIBUTION FUNCTIONS');
col('body-text-line',P2+461,869,CW,17.3,FS,[
'^The large W/Z cross sections at the LHC makes','high-precision differential measurements possible.','CMS performed a measurement of the muon differen-','tial cross section measurement as a function of muon','pseudorapidity in inclusive W → μν production [14].','This analysis utilized the same trigger path as the in-','clusive W → μν cross section analysis. The W → μν','candidates were selected with muon pT > 25 GeV','and MET > 20 GeV. A calorimeter-based isolation was','used to suppress the QCD dijet contribution. Af-','ter correcting for efficiencies and acceptance, the ex-','pected muon pseudorapidity distributions at an inte-','grated luminosity of 10 pb⁻¹ are shown in Fig. 3. The','PDF error on the experimental data points is the the-','oretical error in estimating acceptance. Among other','systematic errors, the 10% luminosity error dom-','inates. The results were compared to theoretical pre-','dictions from Pythia. We estimated the PDF er-','ror using the CTEQ6M [15] PDF model with PDF-']);
// Page 3
const P3=1854;
col('figure-caption-line',P3+79,481,738,16,12.5,[
'FIG. 1: Left) The reconstructed W → μν transverse mass distribution. Right) The reconstructed W → eν MET','distribution. Both are normalized to 10 pb⁻¹ of integrated luminosity. The arrow in the left figure indicates that a cut','on mT > 50 GeV was applied to select final data sample.|']);
col('figure-caption-line',P3+79,846,738,16.4,12.5,[
'FIG. 2: Left) The reconstructed Z → ee invariant mass distribution for an integrated luminosity of 10 pb⁻¹. Right) The','Z → μμ cross section as a function of MC statistics corresponding to different luminosity scenarios. The results were','normalized to the cross section determined with 133 pb⁻¹ of integrated luminosity. Only statistical errors are shown.|']);
col('body-text-line',P3+79,929,CW,LH,FS,[
'reweighting technique [16]. With 10 pb⁻¹ of inte-','grated luminosity, the results are still dominated by','experimental systematic error.|',
'^To minimize experimental systematic errors, CMS','also studied the muon charge asymmetry defined in','Eq. 1 because many experimental errors cancel out.','The PDF error on this quantity is only at few per-','cent level [17]. The analysis strategy was identical to','the muon differential cross section analysis described','above. We computed the observed charge asymme-','try, Aobs(η), with background subtracted number of','W → μν signal events, NW→μν(η),|']);
col('body-text-line',P3+461,929,CW,LH,FS,[
'assuming that reconstruction and selection efficiency','ratios between μ⁺ and μ⁻ are one. Because of the','weak decay of W bosons, the acceptance ratio between','μ⁺ and μ⁻ differs from unity. In this analysis, we did','not correct for the acceptance difference in Aobs(η)','but absorbed it into the theoretical predictions. The','charge asymmetry as a function of muon pseudorapid-','ity for an integrated luminosity of 100 pb⁻¹ is shown','in Fig. 4 [14]. The result is compared to theoretical','predictions from Pythia, where the PDF error was es-','timated with CTEQ6M PDF model. The systematic','error is dominated by the statistical error on the ef-','ficiency ratio between μ⁺ and μ⁻ determined using','100 pb⁻¹ of Drell-Yan MC. Even with a conservative','treatment of systematic errors, the total errors of this']);
// Page 4
const P4=2781;
col('figure-caption-line',P4+79,482,734,17,12.5,[
'FIG. 3: The expected W → μν differential cross sections for an integrated luminosity of 10 pb⁻¹. Left) μ⁺, and Right)','μ⁻.|']);
col('body-text-line',P4+79,548,CW,LH,FS,[
'measurement are comparable to the PDF errors and','potentially could provide new constraints on different','PDF models.|']);
col('figure-caption-line',P4+79,977,CW,15.9,12.5,[
'FIG. 4: The expected muon charge asymmetry for 100','pb⁻¹ of simulated luminosity. The systematic error is','dominated by the statistical error on the efficiency ratio','between μ⁺ and μ⁻ determined using 100 pb⁻¹ of Drell-','Yan MC.|']);
col('body-text-line',P4+79,1094,CW,LH,FS,[
'^The Z boson differential cross section as a function','of Z rapidity can also be used to test higher order','perturbation calculations and put constraints on PDF','models. CMS performed a study of this observable','using Z → ee events [18]. To remove the luminosity','uncertainty in this measurement, the following observ-']);
col('body-text-line',P4+461,548,CW,LH,FS,['able was studied,|']);
col('body-text-line',P4+461,623,CW,LH,FS,[
'where for each bin i of rapidity (yi), Ni is the number','of background subtracted Z → ee candidates, Δi is','the bin width, and (ε × A)i is the product of the effi-','ciency and acceptance for detecting and reconstruct-','ing a Z boson with rapidity yi.|',
'^With conventional electron reconstruction at the','CMS, where both CMS ECAL and tracking system','are utilized, the coverage for electrons is up to pseu-','dorapidity of about 2.5. The reconstructed Z → ee','candidates can be used to directly probe partons with','kinematics [22] outside the range of previous experi-','ments [4]. The kinematics reach was further extended','by using electrons reconstructed using the CMS For-','ward Hadronic (HF) calorimeter [19], which has a cov-','erage up to pseudorapidity of 4.6. The shower shape','of HF reconstructed electron candidates was utilized','to remove Z → ee background events effectively.|',
'^The final results for the rapidity measurement for an','integrated luminosity of 100 pb⁻¹ is shown in Fig. 5.','The background in the HF region is well under con-','trol. The expected measurements are compared to','predictions with CTEQ6.1 PDF model [20]. With an','integrated luminosity of 100 pb⁻¹, we are expecting','to provide new constraints on different PDF models.|']);
head('section-heading',P4+461,1072,CW,'VII.  SUMMARY');
col('body-text-line',P4+461,1111,CW,LH,FS,[
'^CMS performed MC studies to explore W/Z bo-','son production with initial LHC data. With 10 pb⁻¹','of integrated luminosity, the inclusive W/Z cross sec-','tions could be established with 1-2% statistical pre-','cision. However, it is expected that the luminosity']);
// Page 5
const P5=3708;
col('figure-caption-line',P5+79,449,CW,16.5,12.5,[
'FIG. 5: The expected Z boson rapidity shape for an inte-','grated luminosity of 100 pb⁻¹.|']);
col('body-text-line',P5+79,516,CW,LH,FS,[
'uncertainty will dominate the total error in these mea-','surements.|',
'^The sensitivities to constrain different PDF models','at CMS were also explored using measurements of the','muon charge asymmetry in inclusive W → μν process','and the Z rapidity shape in inclusive Z → ee process.','With about 100 pb⁻¹ of integrated luminosity, both','measurements could provide constraints on different','PDF models.|']);
head('acknowledgments-heading',P5+79,705,CW,'Acknowledgments',13,0.5);
col('body-text-line',P5+79,744,CW,LH,FS,[
'^We thank the technical and administrative staff','at CERN and other CMS Institutes, and acknowl-']);
col('body-text-line',P5+461,186,CW,LH,FS,[
'edge support from: FMSR (Austria); FNRS and','FWO (Belgium); CNPq, CAPES, FAPERJ, and','FAPESP (Brazil); MES (Bulgaria); CERN; CAS,','MoST, and NSFC (China); COLCIENCIAS (Colom-','bia); MSES (Croatia); RPF (Cyprus); Academy','of Sciences and NICPB (Estonia); Academy of','Finland, ME, and HIP (Finland); CEA and','CNRS/IN2P3 (France); BMBF, DFG, and HGF (Ger-','many); GSRT (Greece); OTKA and NKTH (Hun-','gary); DAE and DST (India); IPM (Iran); SFI (Ire-','land); INFN (Italy); NRF (Korea); LAS (Lithua-','nia); CINVESTAV, CONACYT, SEP, and UASLP-','FAI (Mexico); PAEC (Pakistan); SCSR (Poland);','FCT (Portugal); JINR (Armenia, Belarus, Geor-','gia, Ukraine, Uzbekistan); MST and MAE (Rus-','sia); MSTDS (Serbia); MICINN and CPAN (Spain);','Swiss Funding Agencies (Switzerland); NSC (Taipei);','TUBITAK and TAEK (Turkey); STFC (United','Kingdom); DOE and NSF (USA). Individuals have','received support from the Marie-Curie IEF pro-','gram (European Union); the Leventis Foundation; the','A. P. Sloan Foundation; the Alexander von Humboldt','Foundation.|']);
col('reference-line',P5+79,846,CW,15.9,12.5,[
'~[1] UA2 Collaboration, M. Banner et al., Phys. Lett. B','>122, 476 (1983).|','~[2] UA1 Collaboration, G. Arnison et al., Phys. Lett. B','>126, 398 (1983).|','~[3] L. Evans et al., JINST 3 S08001 (2008).|','~[4] J.M. Campbell, J.W. Huston, and W.J. Stirling,','>Rept. Prog. Phys. 70 89 (2007).|','~[5] C. Anastasiou et al., Phys. Rev. D 69, 094008 (2004).|','~[6] CMS Collaboration, JINST 0803 S08004 (2008).|','~[7] T. Sjöstrand et al., Comput. Phys. Commun. 135','>2001.|','~[8] J. Pumplin et al., arxiv:hep-ph/0201195.|','~[9] S. Agostinelli et al., Nucl. Instrum. Methods. Phys.','>Res. A 506 250 (2003).|','[10] CMS Collaboration, CMS-PAS-EWK-09-001 (2009).','[11] CMS Collaboration, CMS-PAS-EWK-09-004 (2009).','[12] CMS Collaboration, CMS-PAS-EWK-07-002 (2007).','[13] H. Jung et al., arxiv:hep-ph/0903.3861.|']);
col('reference-line',P5+461,846,CW,15.4,12.5,[
'[14] CMS Collaboration, CMS-PAS-EWK-09-003 (2009).','[15] J. Pumplin et al., JHEP 0207, 12 (2002).|','[16] D. Bourilkov, R. Group, and M. Whalley,','>arxiv:hep-ph/0605240v2.|','[17] A.M. Cooper-Sarkar, talk in PDF4LHC workshop','>(2009).|','[18] CMS Collaboration, CMS-PAS-EWK-09-005 (2009).','[19] G. Baiatian et al., Eur. Phys. J. C 53 139 (2008).|','[20] S. Kretzer et al., Phys. Rev. D. 69, 114005 (2004).|','[21] Here mT = √(2 pT MET (1 − cos(Δφμ,MET))),','>where Δφμ,MET is the angular difference between','>muon and missing transverse moment in the plane','>transverse to the beam direction.|','[22] Here the initial state parton momentum fraction','>x1,2 = (MZ/√s) e^±y, where s is the center of mass en-','>ergy at the LHC.|']);
</script>
</body></html>
